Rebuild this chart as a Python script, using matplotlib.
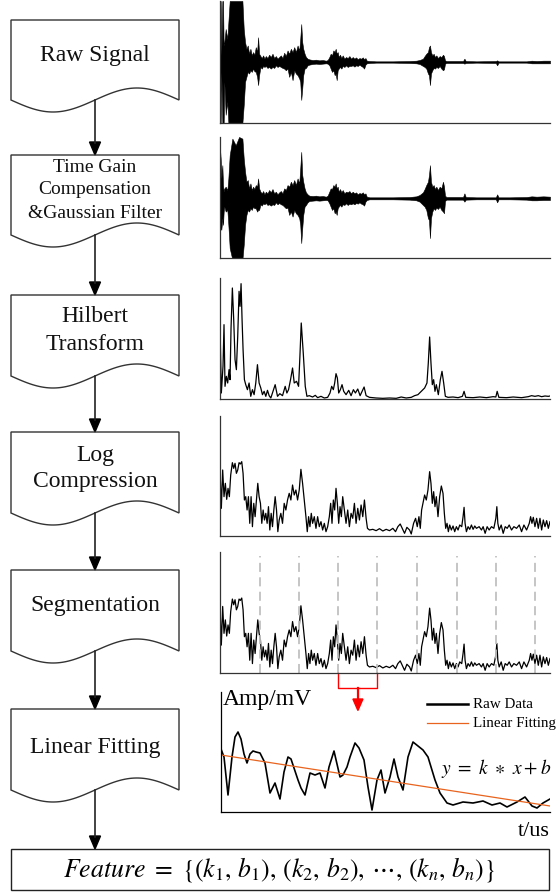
import numpy as np
import matplotlib
matplotlib.use('Agg')
import matplotlib.pyplot as plt
from matplotlib.patches import Polygon, Rectangle

plt.rcParams['font.family'] = ['Liberation Serif', 'DejaVu Serif']
plt.rcParams['mathtext.fontset'] = 'stix'

# flowchart steps
steps = [["Raw Signal"],
         ["Time Gain", "Compensation", "&Gaussian Filter"],
         ["Hilbert", "Transform"],
         ["Log", "Compression"],
         ["Segmentation"],
         ["Linear Fitting"]]

# time axis shared by the two oscillating traces
sig_t = [33, 35, 37, 40, 42, 44, 46, 50, 55, 58,
         62, 70, 80, 90, 100, 104, 108, 112, 116, 120,
         124, 128, 132, 136, 140, 144, 147, 150, 154, 158,
         162, 166, 170, 175, 180, 185, 190, 195, 200, 205,
         210, 215, 220, 225, 230, 235, 240, 245, 250, 255,
         260, 265, 270, 273, 276, 279, 282, 286, 290, 295,
         300, 310, 320, 330, 340, 350, 355, 360, 364, 368,
         372, 376, 379, 382, 385, 388, 392, 396, 400, 405,
         410, 415, 420, 425, 430, 435, 440, 445, 450, 455,
         460, 464, 468, 472, 480, 500, 550, 600, 620, 630,
         640, 645, 650, 655, 658, 661, 664, 668, 672, 676,
         680, 685, 690, 695, 700, 703, 706, 710, 730, 760,
         764, 768, 800, 858, 862, 866, 900, 950, 965, 980,
         1000, 1020]

# raw echo (upper / lower envelope of the oscillation)
raw_up = [185, 185, 20, 185, 185, 50, 60, 100, 70, 120,
          185, 185, 185, 185, 185, 100, 60, 40, 50, 25,
          40, 20, 30, 22, 45, 30, 75, 25, 18, 12,
          20, 10, 18, 12, 22, 15, 25, 12, 18, 10,
          15, 20, 12, 28, 18, 35, 25, 40, 30, 45,
          30, 50, 35, 70, 115, 60, 40, 25, 15, 10,
          8, 6, 7, 5, 6, 4, 6, 15, 25, 20,
          35, 30, 40, 25, 30, 15, 22, 12, 20, 10,
          15, 12, 18, 10, 15, 10, 14, 8, 12, 10,
          14, 8, 12, 4, 3, 2, 2, 3, 4, 6,
          10, 18, 25, 30, 45, 50, 30, 20, 25, 15,
          20, 12, 18, 15, 22, 18, 5, 3, 3, 3,
          10, 3, 2, 3, 5, 2, 2, 2, 4, 3,
          4, 4]
raw_dn = [-185, -185, -30, -185, -185, -185, -60, -160, -120, -185,
          -185, -185, -185, -185, -185, -130, -60, -45, -30, -35,
          -25, -30, -20, -28, -30, -45, -70, -40, -15, -20,
          -12, -15, -12, -18, -15, -20, -15, -18, -10, -15,
          -12, -15, -18, -20, -25, -20, -45, -30, -55, -25,
          -35, -40, -50, -60, -115, -80, -40, -20, -18, -10,
          -8, -6, -5, -6, -5, -4, -5, -10, -20, -30,
          -25, -40, -35, -55, -25, -20, -15, -20, -12, -15,
          -10, -15, -12, -12, -10, -14, -10, -12, -8, -12,
          -15, -20, -8, -4, -3, -2, -2, -3, -4, -6,
          -12, -15, -20, -35, -40, -70, -35, -25, -18, -20,
          -15, -18, -12, -20, -25, -22, -5, -3, -3, -3,
          -5, -3, -2, -3, -10, -2, -2, -2, -4, -4,
          -4, -4]

# after time gain compensation + gaussian filter
tgc_up = [150, 120, 60, 100, 40, 20, 30, 35, 25, 60,
          130, 180, 160, 185, 180, 120, 80, 50, 55, 30,
          45, 25, 35, 28, 40, 35, 60, 30, 20, 15,
          22, 12, 20, 15, 25, 18, 28, 15, 20, 12,
          18, 22, 15, 30, 25, 40, 35, 50, 40, 55,
          40, 60, 45, 90, 140, 70, 50, 30, 18, 12,
          8, 7, 8, 6, 7, 5, 8, 20, 30, 28,
          40, 35, 45, 30, 35, 20, 28, 18, 25, 15,
          20, 18, 22, 15, 20, 15, 18, 12, 16, 14,
          18, 12, 15, 5, 3, 3, 3, 4, 6, 10,
          18, 28, 40, 50, 70, 100, 50, 35, 40, 28,
          35, 25, 35, 30, 50, 35, 8, 4, 4, 4,
          15, 4, 3, 3, 12, 3, 3, 4, 6, 5,
          6, 5]
tgc_dn = [-85, -90, -95, -60, -80, -40, -25, -40, -35, -80,
          -150, -185, -180, -185, -185, -140, -80, -50, -35, -40,
          -30, -35, -25, -30, -30, -40, -35, -35, -18, -22,
          -15, -18, -14, -20, -18, -22, -18, -20, -12, -18,
          -14, -18, -20, -25, -30, -28, -50, -40, -55, -35,
          -45, -50, -60, -80, -135, -90, -50, -25, -20, -12,
          -8, -7, -6, -7, -6, -5, -6, -15, -25, -35,
          -30, -45, -40, -50, -30, -25, -20, -25, -18, -20,
          -15, -20, -16, -18, -15, -18, -14, -16, -12, -16,
          -18, -22, -10, -5, -3, -3, -3, -4, -6, -10,
          -20, -25, -35, -60, -65, -120, -60, -40, -30, -35,
          -28, -32, -25, -35, -40, -45, -8, -4, -4, -4,
          -10, -4, -3, -3, -12, -3, -3, -4, -6, -6,
          -5, -5]

# hilbert envelope
hil_t = [33, 37, 42, 45, 48, 52, 56, 60, 63, 66, 70, 74, 78, 82, 86, 90, 93, 96, 99, 102,
         106, 110, 115, 120, 125, 130, 135, 140, 145, 150, 155, 160, 165, 170, 175, 180, 185, 190, 198, 205,
         212, 220, 228, 233, 238, 244, 250, 255, 262, 268, 272, 276, 282, 288, 293, 300, 310, 318, 325, 335,
         345, 355, 362, 367, 372, 376, 380, 384, 388, 393, 398, 403, 410, 418, 425, 432, 438, 445, 452, 458,
         464, 470, 480, 500, 520, 540, 560, 575, 590, 605, 615, 625, 635, 645, 652, 656, 660, 664, 668, 672,
         676, 680, 686, 692, 697, 702, 707, 715, 730, 745, 758, 763, 768, 790, 810, 830, 850, 858, 862, 867,
         890, 910, 935, 955, 965, 975, 985, 995, 1005, 1015, 1020]
hil_v = [223, 18, 98, 223, 38, 68, 48, 88, 58, 213, 333, 238, 118, 88, 188, 323, 278, 346, 238, 148,
         58, 43, 28, 48, 8, 28, 13, 48, 103, 48, 33, 13, 23, 8, 26, 10, 3, 18, 43, 8,
         16, 10, 38, 18, 28, 58, 93, 48, 53, 38, 128, 228, 138, 38, 8, 10, 6, 11, 4, 8,
         3, 5, 18, 38, 28, 48, 76, 63, 18, 28, 43, 23, 13, 26, 10, 28, 18, 30, 10, 23,
         36, 10, 5, 3, 2, 3, 2, 6, 3, 5, 10, 13, 23, 33, 48, 108, 186, 108, 43, 58,
         23, 43, 13, 58, 83, 48, 8, 5, 6, 4, 8, 23, 5, 4, 6, 4, 7, 6, 23, 5,
         4, 6, 4, 7, 10, 8, 10, 7, 9, 8, 9]

# log compressed envelope
log_t = [33, 37, 41, 45, 49, 53, 57, 61, 65, 70, 74, 78, 82, 86, 90, 94, 98, 102, 106, 110,
         114, 118, 122, 126, 130, 134, 138, 142, 146, 150, 154, 158, 162, 166, 170, 174, 178, 182, 186, 190,
         194, 198, 202, 206, 210, 215, 220, 225, 230, 235, 240, 245, 250, 255, 260, 265, 270, 275, 280, 285,
         290, 294, 298, 302, 306, 310, 315, 320, 325, 330, 335, 340, 345, 350, 355, 360, 364, 368, 372, 376,
         380, 384, 388, 392, 396, 400, 405, 410, 415, 420, 425, 430, 435, 440, 445, 450, 455, 460, 465, 470,
         474, 480, 490, 500, 510, 520, 530, 540, 550, 558, 565, 572, 578, 585, 592, 600, 605, 612, 618, 623,
         628, 632, 636, 640, 645, 650, 655, 660, 664, 668, 672, 676, 680, 685, 690, 695, 700, 704, 708, 712,
         716, 720, 725, 730, 735, 740, 745, 750, 756, 760, 763, 766, 770, 775, 780, 785, 790, 795, 800, 808,
         815, 820, 826, 832, 838, 845, 852, 858, 861, 864, 868, 874, 880, 886, 892, 898, 905, 912, 920, 928,
         935, 942, 950, 958, 962, 966, 970, 975, 980, 985, 990, 995, 1000, 1005, 1010, 1015, 1020]
log_v = [200, 83, 198, 118, 158, 110, 143, 118, 183, 220, 203, 218, 188, 198, 220, 216, 223, 188, 108, 118,
         78, 118, 38, 118, 28, 98, 58, 108, 158, 118, 98, 38, 78, 48, 68, 38, 88, 18, 68, 28,
         78, 118, 78, 13, 48, 68, 38, 98, 78, 108, 128, 108, 153, 123, 138, 108, 138, 200, 158, 108,
         58, 13, 58, 28, 68, 38, 58, 23, 58, 28, 43, 18, 38, 13, 28, 58, 98, 38, 108, 78,
         143, 98, 38, 88, 58, 118, 78, 38, 78, 28, 68, 53, 98, 38, 83, 48, 93, 58, 108, 53,
         23, 18, 20, 16, 22, 15, 20, 16, 23, 13, 28, 36, 23, 8, 26, 18, 6, 38, 53, 28,
         58, 23, 78, 98, 123, 108, 138, 193, 158, 98, 133, 88, 118, 58, 118, 150, 128, 68, 23, 38,
         13, 33, 18, 30, 13, 28, 18, 33, 28, 58, 86, 38, 13, 28, 20, 33, 20, 30, 23, 28,
         18, 28, 8, 28, 18, 28, 23, 53, 88, 38, 18, 33, 8, 28, 23, 33, 18, 28, 23, 33,
         13, 33, 18, 38, 58, 38, 56, 28, 53, 23, 53, 18, 48, 28, 46, 23, 43]

# segment boundaries
seg_bounds = [153, 270, 387, 504, 621, 741, 858, 975]
sel_seg = 2  # segment picked out for fitting

# one segment, zoomed in
seg_x = [0, 3, 7, 11, 14, 17, 20, 23, 26, 29, 32, 35, 39, 44, 49, 54, 59, 63, 67, 70,
         77, 80, 84, 89, 94, 99, 104, 108, 113, 119, 122, 126, 129, 134, 138, 143, 147, 151, 156, 160,
         164, 169, 173, 177, 182, 187, 192, 197, 202, 207, 214, 219, 226, 232, 242, 252, 262, 271, 279, 286,
         296, 304, 311, 316, 322, 329]
seg_y = [63, 55, 17, 55, 75, 80, 73, 58, 49, 58, 61, 60, 59, 49, 19, 29, 13, 40, 55, 53,
         32, 24, 17, 39, 37, 39, 24, 45, 61, 35, 37, 45, 55, 69, 64, 52, 25, 2, 32, 42,
         19, 35, 53, 35, 22, 55, 70, 66, 62, 55, 32, 19, 9, 7, 10, 9, 11, 7, 9, 5,
         10, 15, 6, 4, 9, 13]
fit_x = [0, 329]
fit_y = [57, 6]

W, H = 558, 892
fig = plt.figure(figsize=(W / 100, H / 100), dpi=100)


def px_axes(left, top, right, bottom):
    ax = fig.add_axes([left / W, 1 - bottom / H, (right - left) / W, (bottom - top) / H])
    for s in ['top', 'right']:
        ax.spines[s].set_visible(False)
    for s in ['left', 'bottom']:
        ax.spines[s].set_color('#333333')
        ax.spines[s].set_linewidth(0.9)
    ax.set_xticks([])
    ax.set_yticks([])
    ax.patch.set_alpha(0)
    return ax


# signal panels
ax1 = px_axes(220, 1, 550, 123)
ax1.fill_between(sig_t, raw_dn, raw_up, color='black', lw=0.4)
ax1.set_xlim(33, 1020)
ax1.set_ylim(-185, 185)

ax2 = px_axes(220, 137, 550, 258)
ax2.fill_between(sig_t, tgc_dn, tgc_up, color='black', lw=0.4)
ax2.set_xlim(33, 1020)
ax2.set_ylim(-180, 185)

ax3 = px_axes(220, 278, 550, 399)
ax3.plot(hil_t, hil_v, color='black', lw=0.9)
ax3.set_xlim(33, 1020)
ax3.set_ylim(0, 363)

ax4 = px_axes(220, 416, 550, 536)
ax4.plot(log_t, log_v, color='black', lw=0.9)
ax4.set_xlim(33, 1020)
ax4.set_ylim(0, 360)

ax5 = px_axes(220, 552, 550, 673)
ax5.plot(log_t, log_v, color='black', lw=0.9)
for b in seg_bounds:
    ax5.axvline(b, ymax=0.97, color='#c0c0c0', lw=1.3, dashes=(5, 3))
ax5.set_xlim(33, 1020)
ax5.set_ylim(0, 360)
# bracket under the chosen segment + red arrow
tr = ax5.get_xaxis_transform()
xa, xb = seg_bounds[sel_seg], seg_bounds[sel_seg + 1]
xm = (xa + xb) / 2
ax5.plot([xa, xa, xb, xb], [0, -0.125, -0.125, 0], color='red', lw=1.0,
         transform=tr, clip_on=False)
ax5.plot([xm, xm], [-0.125, -0.22], color='red', lw=1.6, transform=tr, clip_on=False)
ax5.add_patch(Polygon([(xm - 15, -0.215), (xm + 15, -0.215), (xm, -0.31)], closed=True,
                      color='red', transform=tr, clip_on=False))

ax6 = px_axes(221, 692, 550, 812)
ax6.spines['left'].set_color('black')
ax6.spines['bottom'].set_color('black')
ax6.plot(seg_x, seg_y, color='black', lw=1.2, solid_joinstyle='round')
ax6.plot(fit_x, fit_y, color='#e8641e', lw=0.9)
ax6.set_xlim(0, 329)
ax6.set_ylim(0, 120)

# flowchart overlay in pixel coords
fc = fig.add_axes([0, 0, 1, 1])
fc.set_xlim(0, W)
fc.set_ylim(H, 0)
fc.axis('off')
fc.patch.set_alpha(0)

x0, x1, xc = 11, 179, 95
tops = [20, 155, 295, 432, 570, 709]
waves = [100, 235, 376, 513, 651, 790]
text_y = [[56], [167, 190, 213], [317, 345], [455, 482], [605], [747]]
text_size = [17, 14, 17, 17, 17, 17]


def doc_box(top, yb, amp=12):
    xs = np.linspace(x1, x0, 100)
    ys = yb + amp * np.sin(2 * np.pi * (xs - x0) / (x1 - x0))
    pts = [(x0, top), (x1, top)] + list(zip(xs, ys))
    fc.add_patch(Polygon(pts, closed=True, fill=False, ec='#333333', lw=1.0))


def down_arrow(y_from, y_to):
    fc.plot([xc, xc], [y_from, y_to - 12], color='#222222', lw=1.2)
    fc.add_patch(Polygon([(xc - 5.5, y_to - 13), (xc + 5.5, y_to - 13), (xc, y_to)],
                         closed=True, color='black'))


for i, lines in enumerate(steps):
    doc_box(tops[i], waves[i])
    for line, ty in zip(lines, text_y[i]):
        fc.text(xc, ty, line, ha='center', va='center', fontsize=text_size[i], color='#111111')
    if i + 1 < len(steps):
        down_arrow(waves[i], tops[i + 1])

down_arrow(waves[-1], 849)
fc.add_patch(Rectangle((11, 849), 538, 41, fill=False, ec='#222222', lw=1.0))
fc.text(279, 870,
        r'$Feature\ =\ \{(k_1,\, b_1),\, (k_2,\, b_2),\, \cdots,\, (k_n,\, b_n)\}$',
        ha='center', va='center', fontsize=18.5)

# labels for the fitting panel
fc.text(223, 700, 'Amp/mV', ha='left', va='center', fontsize=17)
fc.text(550, 831, 't/us', ha='right', va='center', fontsize=16)
fc.plot([427, 468], [704, 704], color='black', lw=1.8)
fc.plot([427, 468], [723, 723], color='#e8641e', lw=0.9)
fc.text(473, 704, 'Raw Data', ha='left', va='center', fontsize=10.8)
fc.text(473, 723, 'Linear Fitting', ha='left', va='center', fontsize=10.8)
fc.text(441, 769, r'$y\ =\ k\ \ast\ x + b$', ha='left', va='center', fontsize=14)

fig.savefig('out.png', dpi=100)
